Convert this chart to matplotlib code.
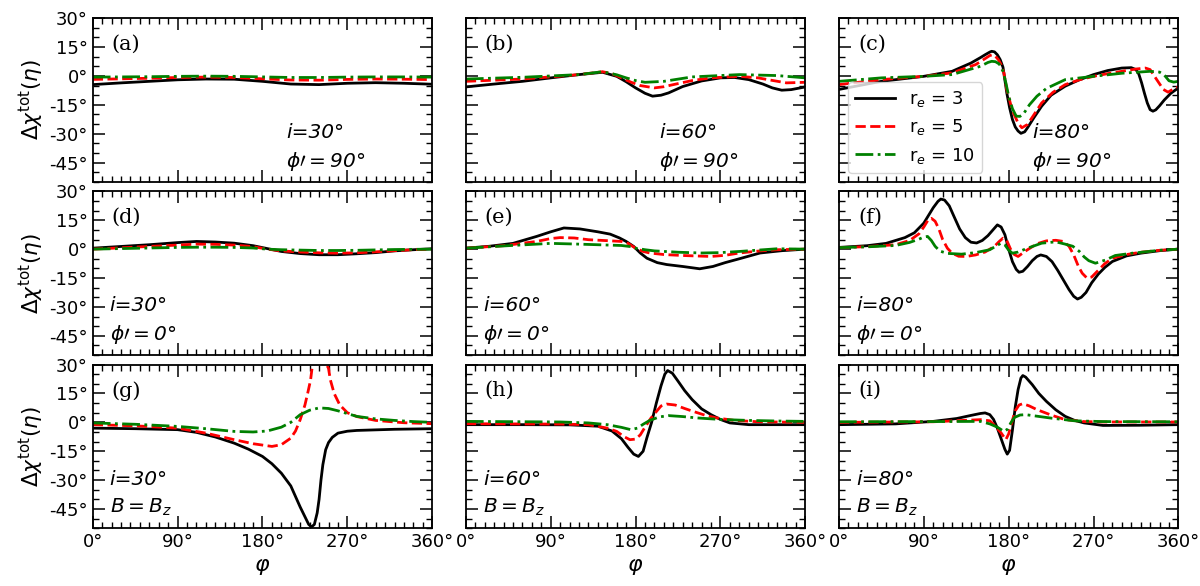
import matplotlib
matplotlib.use('Agg')
import matplotlib.pyplot as plt
from matplotlib.ticker import MultipleLocator, FuncFormatter

# ---- data (phi in degrees, chi in degrees) ----
# (a) i=30, phi'=90
a_phi = [0, 30, 60, 90, 120, 150, 180, 210, 240, 270, 300, 330, 360]
a_chi_3 = [-4.5, -3.6, -2.8, -2.0, -1.6, -1.7, -2.8, -4.2, -4.5, -3.8, -3.5, -3.8, -4.3]
a_chi_5 = [-1.8, -1.5, -1.2, -0.8, -0.6, -0.8, -1.5, -2.1, -2.2, -1.8, -1.6, -1.7, -1.9]
a_chi_10 = [-0.6, -0.5, -0.4, -0.2, -0.1, -0.2, -0.5, -0.8, -0.8, -0.6, -0.5, -0.5, -0.6]

# (b) i=60, phi'=90
b_phi_3 = [0, 30, 60, 90, 120, 145, 160, 170, 180, 190, 198, 207, 215, 230, 250, 270, 285, 300, 315, 325, 335, 345, 360]
b_chi_3 = [-5.7, -4.2, -2.8, -1.0, 0.7, 1.9, -0.2, -3.0, -6.2, -9.0, -10.5, -10.0, -8.8, -5.5, -2.6, -1.0, -0.8, -1.9, -4.2, -6.2, -7.4, -7.1, -5.7]
b_phi_5 = [0, 30, 60, 90, 120, 145, 155, 165, 175, 185, 200, 210, 220, 240, 260, 290, 310, 320, 340, 360]
b_chi_5 = [-2.8, -2.2, -1.6, -0.5, 0.7, 2.2, 1.2, -1.0, -3.2, -5.0, -6.2, -5.6, -4.5, -2.4, -1.0, -0.2, -1.0, -1.9, -3.6, -3.3]
b_phi_10 = [0, 60, 90, 120, 145, 160, 170, 180, 190, 210, 240, 290, 330, 360]
b_chi_10 = [-1.6, -0.7, 0.0, 0.7, 2.2, 0.6, -1.0, -2.4, -3.3, -2.8, -0.5, 0.7, 0.2, -1.0]

# (c) i=80, phi'=90
c_phi_3 = [0, 45, 90, 120, 140, 150, 155, 160, 162, 165, 168, 171, 174, 178, 181, 184, 187, 190, 193, 197,
           200, 207, 215, 225, 240, 255, 270, 285, 300, 310, 315, 318, 321, 324, 327, 330, 333, 336, 340, 345, 352, 360]
c_chi_3 = [-7.0, -2.8, -0.2, 2.4, 6.7, 9.5, 11.0, 12.4, 12.8, 12.5, 11.0, 8.5, 4.5, -8.8, -16.5, -22.6, -26.5, -28.6, -29.8, -29.0,
           -26.9, -21.5, -15.7, -10.0, -5.3, -2.0, 0.7, 2.8, 4.1, 4.3, 3.3, 1.0, -3.6, -9.0, -14.0, -17.5, -18.3, -17.6, -15.5, -12.5, -9.0, -6.2]
c_phi_5 = [0, 45, 90, 120, 145, 155, 160, 163, 166, 169, 172, 175, 178, 182, 185, 190, 194, 200, 207, 215,
           227, 240, 255, 270, 285, 300, 315, 325, 330, 337, 344, 349, 354, 360]
c_chi_5 = [-4.5, -1.9, -0.2, 1.6, 5.9, 9.0, 10.6, 11.0, 10.2, 8.5, 5.9, 1.5, -7.1, -14.5, -19.1, -24.5, -26.9, -25.2, -20.0, -14.0,
           -8.5, -4.5, -2.0, -0.2, 1.2, 2.4, 3.6, 4.1, 3.3, -1.9, -7.0, -8.4, -7.0, -5.7]
c_phi_10 = [0, 45, 90, 120, 150, 158, 162, 166, 170, 174, 177, 180, 184, 188, 192, 196, 202, 210, 220, 240,
            270, 300, 330, 340, 345, 350, 355, 360]
c_chi_10 = [-2.8, -1.0, -0.2, 0.7, 5.0, 7.0, 7.6, 7.4, 6.2, 2.4, -3.5, -10.5, -17.0, -20.9, -21.0, -19.5, -15.0, -10.5, -6.5, -1.9,
            -0.2, 1.4, 2.4, 2.0, 0.5, -2.5, -3.2, -2.8]

# (d) i=30, phi'=0
d_phi = [0, 30, 60, 90, 110, 130, 150, 170, 185, 200, 220, 240, 260, 280, 300, 320, 340, 360]
d_chi_3 = [0.5, 1.4, 2.3, 3.4, 4.0, 3.7, 3.1, 1.8, 0.3, -1.2, -2.3, -2.9, -2.9, -2.4, -1.8, -0.9, -0.3, 0.2]
d_chi_5 = [0.0, 0.7, 1.4, 2.1, 2.6, 2.5, 2.1, 1.3, 0.0, -0.9, -1.5, -1.9, -2.1, -1.9, -1.4, -0.8, -0.3, 0.0]
d_chi_10 = [0.0, 0.3, 0.6, 0.9, 1.0, 1.0, 0.9, 0.6, 0.0, -0.3, -0.5, -0.7, -0.7, -0.6, -0.4, -0.2, -0.1, 0.0]

# (e) i=60, phi'=0
e_phi_3 = [0, 25, 50, 75, 90, 104, 121, 140, 153, 163, 170, 178, 185, 192, 203, 213, 230, 248, 262, 275, 290, 312, 335, 360]
e_chi_3 = [0.5, 1.5, 3.0, 6.6, 9.0, 11.0, 10.5, 9.0, 7.8, 5.8, 4.0, 1.4, -2.0, -4.7, -7.0, -8.0, -9.0, -10.2, -9.0, -7.0, -5.0, -2.0, -0.8, 0.0]
e_phi_5 = [0, 40, 75, 90, 100, 115, 130, 150, 165, 172, 180, 188, 195, 210, 230, 260, 275, 290, 310, 330, 360]
e_chi_5 = [0.5, 1.8, 4.0, 5.5, 6.0, 5.8, 4.9, 4.4, 4.0, 3.0, 0.5, -1.2, -2.0, -2.8, -3.3, -3.8, -3.2, -2.0, -1.0, -0.3, 0.0]
e_phi_10 = [0, 45, 90, 120, 165, 175, 180, 190, 200, 225, 250, 270, 290, 310, 330, 360]
e_chi_10 = [0.5, 1.8, 3.0, 2.6, 1.9, 1.3, 0.5, -0.3, -0.9, -1.6, -2.0, -1.8, -1.2, -0.5, 0.2, 0.0]

# (f) i=80, phi'=0
f_phi_3 = [0, 30, 50, 70, 80, 90, 95, 100, 105, 108, 112, 117, 122, 128, 134, 140, 146, 152, 158, 163, 168, 172, 176,
           180, 184, 188, 191, 195, 200, 205, 210, 214, 220, 226, 232, 238, 244, 249, 253, 257, 262, 268, 275, 282, 290,
           305, 320, 340, 360]
f_chi_3 = [0.9, 1.8, 3.0, 6.0, 8.5, 13.5, 17.5, 21.5, 24.8, 26.0, 25.5, 22.5, 17.0, 10.5, 6.0, 3.6, 3.2, 4.5, 7.0, 9.8, 12.6, 11.5, 7.5,
           0.0, -6.5, -10.5, -12.0, -11.5, -9.0, -6.0, -3.8, -3.0, -3.8, -6.5, -11.0, -16.0, -21.0, -24.5, -25.9, -25.0, -22.5, -17.5, -13.0, -9.5, -6.4,
           -3.5, -2.1, -0.8, 0.0]
f_phi_5 = [0, 30, 60, 75, 85, 90, 95, 98, 102, 106, 110, 115, 120, 127, 135, 145, 155, 165, 170, 174, 178, 182, 186,
           190, 195, 200, 210, 220, 230, 238, 244, 249, 254, 258, 263, 268, 274, 282, 290, 305, 320, 340, 360]
f_chi_5 = [0.8, 1.3, 2.3, 4.5, 8.0, 11.5, 15.5, 16.0, 14.5, 10.5, 5.0, 0.5, -2.1, -3.7, -3.8, -3.0, -1.5, 1.5, 4.0, 5.7, 4.5, 0.0, -2.8,
           -3.8, -2.0, -0.3, 2.8, 4.3, 4.6, 4.0, 1.5, -3.0, -9.0, -12.5, -15.0, -14.5, -11.5, -7.5, -4.7, -2.8, -1.6, -0.6, 0.0]
f_phi_10 = [0, 30, 60, 75, 85, 90, 94, 98, 102, 107, 115, 130, 145, 160, 168, 172, 176, 180, 184, 190, 200, 215,
            230, 240, 248, 255, 260, 265, 272, 283, 293, 311, 340, 360]
f_chi_10 = [0.8, 1.2, 1.9, 3.5, 5.2, 6.3, 6.6, 4.5, 1.5, -1.0, -2.2, -2.6, -1.8, -0.3, 2.0, 3.1, 2.2, -0.5, -2.1, -1.5, 0.5, 3.1,
            3.8, 2.6, 1.5, -1.2, -4.0, -6.0, -7.3, -5.6, -3.3, -2.1, -0.6, 0.0]

# (g) i=30, B=Bz
g_phi_3 = [0, 45, 90, 110, 130, 150, 165, 180, 190, 200, 210, 215, 220, 225, 229, 232, 235, 238, 240, 242, 244, 247,
           250, 254, 260, 270, 280, 320, 360]
g_chi_3 = [-3.0, -3.3, -3.8, -5.2, -7.6, -10.8, -13.9, -17.7, -21.5, -26.4, -33.0, -38.5, -44.0, -49.0, -53.0, -54.3, -53.0, -47.0, -40.0, -30.0, -22.0, -14.2,
           -10.5, -7.8, -5.6, -4.6, -4.2, -3.6, -3.3]
g_phi_5 = [0, 45, 90, 120, 150, 170, 190, 200, 210, 215, 220, 225, 228, 231, 233, 240, 248, 250, 252, 256, 262, 270, 280, 300, 330, 360]
g_chi_5 = [-1.2, -1.8, -3.0, -5.6, -9.0, -11.1, -12.5, -11.6, -8.2, -4.5, 1.4, 9.0, 15.3, 22.0, 30.0, 60.0, 30.0, 28.0, 22.0, 15.0, 9.0, 5.0, 3.0, 1.0, -0.2, -0.7]
g_phi_10 = [0, 45, 90, 120, 150, 170, 185, 200, 210, 220, 230, 240, 250, 260, 280, 300, 320, 340, 360]
g_chi_10 = [-0.3, -1.0, -2.1, -3.3, -4.7, -5.0, -4.5, -2.5, 0.0, 4.0, 6.3, 7.5, 7.2, 6.0, 3.1, 1.8, 1.0, 0.4, 0.0]

# (h) i=60, B=Bz
h_phi_3 = [0, 60, 110, 140, 155, 165, 172, 178, 183, 188, 192, 197, 202, 207, 211, 214, 219, 225, 232, 240, 250, 260, 270, 280, 300, 360]
h_chi_3 = [-1.2, -1.2, -1.3, -2.0, -4.5, -8.5, -13.0, -16.5, -17.7, -15.0, -8.0, 0.0, 10.0, 19.0, 25.0, 26.9, 25.5, 21.4, 16.5, 11.8, 7.0, 4.0, 1.5, -0.3, -1.2, -1.2]
h_phi_5 = [0, 100, 130, 150, 160, 168, 174, 180, 185, 190, 196, 201, 207, 213, 222, 232, 241, 255, 266, 285, 310, 360]
h_chi_5 = [-0.7, -0.9, -1.2, -3.0, -4.7, -7.5, -9.0, -8.7, -6.5, -2.5, 2.0, 5.0, 8.5, 9.5, 9.0, 7.2, 5.7, 3.5, 2.3, 1.0, 0.3, 0.0]
h_phi_10 = [0, 100, 130, 150, 165, 175, 182, 188, 195, 205, 215, 230, 245, 270, 300, 330, 360]
h_chi_10 = [0.5, 0.2, -0.3, -1.2, -2.6, -3.8, -3.0, -1.0, 1.0, 2.8, 3.5, 3.0, 2.3, 1.5, 1.0, 0.7, 0.5]

# (i) i=80, B=Bz
i_phi_3 = [0, 60, 100, 125, 140, 150, 155, 160, 164, 168, 172, 176, 178.5, 181, 184, 187, 190, 193, 195, 198,
           205, 212, 220, 230, 240, 250, 260, 280, 320, 360]
i_chi_3 = [-1.2, -0.8, 0.5, 2.0, 3.6, 4.6, 4.9, 4.0, 1.5, -3.0, -8.5, -14.0, -16.5, -14.5, -4.0, 8.0, 17.0, 23.0, 24.3, 23.5,
           19.6, 15.0, 10.9, 6.5, 3.1, 1.0, -0.3, -1.6, -1.5, -1.2]
i_phi_5 = [0, 100, 150, 160, 166, 172, 177, 180, 183, 187, 191, 195, 202, 210, 225, 240, 260, 280, 360]
i_chi_5 = [0.0, 0.3, 1.4, 0.8, -2.0, -5.5, -9.0, -6.0, -0.5, 6.0, 9.0, 9.7, 8.5, 6.6, 3.8, 1.4, 0.4, 0.2, 0.2]
i_phi_10 = [0, 100, 150, 160, 168, 175, 179, 182, 186, 192, 198, 210, 225, 250, 280, 360]
i_chi_10 = [0.3, 0.4, 0.5, -0.8, -2.5, -4.7, -3.5, -0.5, 2.5, 3.8, 4.0, 3.2, 2.2, 0.8, 0.4, 0.3]

panel_tags = ['(a)', '(b)', '(c)', '(d)', '(e)', '(f)', '(g)', '(h)', '(i)']
incl_text = ['i=30°', 'i=60°', 'i=80°'] * 3
field_text = [r'$\phi\prime = $90°'] * 3 + [r'$\phi\prime = $0°'] * 3 + [r'$B = B_z$'] * 3
legend_labels = [r'r$_e$ = 3', r'r$_e$ = 5', r'r$_e$ = 10']

curves = [
    (a_phi, a_chi_3, a_phi, a_chi_5, a_phi, a_chi_10),
    (b_phi_3, b_chi_3, b_phi_5, b_chi_5, b_phi_10, b_chi_10),
    (c_phi_3, c_chi_3, c_phi_5, c_chi_5, c_phi_10, c_chi_10),
    (d_phi, d_chi_3, d_phi, d_chi_5, d_phi, d_chi_10),
    (e_phi_3, e_chi_3, e_phi_5, e_chi_5, e_phi_10, e_chi_10),
    (f_phi_3, f_chi_3, f_phi_5, f_chi_5, f_phi_10, f_chi_10),
    (g_phi_3, g_chi_3, g_phi_5, g_chi_5, g_phi_10, g_chi_10),
    (h_phi_3, h_chi_3, h_phi_5, h_chi_5, h_phi_10, h_chi_10),
    (i_phi_3, i_chi_3, i_phi_5, i_chi_5, i_phi_10, i_chi_10),
]

plt.rcParams['mathtext.fontset'] = 'dejavusans'
deg = FuncFormatter(lambda v, p: '%d°' % v)

fig, axes = plt.subplots(3, 3, figsize=(12, 5.86), dpi=100, sharex=True, sharey=True)
fig.subplots_adjust(left=0.0773, right=0.982, top=0.969, bottom=0.0985, wspace=0.099, hspace=0.058)

for k, ax in enumerate(axes.flat):
    x3, y3, x5, y5, x10, y10 = curves[k]
    ax.plot(x3, y3, color='k', ls='-', lw=2, label=legend_labels[0])
    ax.plot(x5, y5, color='r', ls='--', lw=2, label=legend_labels[1])
    ax.plot(x10, y10, color='g', ls='-.', lw=2, label=legend_labels[2])

    ax.set_xlim(0, 360)
    ax.set_ylim(-55, 30)
    ax.xaxis.set_major_locator(MultipleLocator(90))
    ax.xaxis.set_minor_locator(MultipleLocator(10))
    ax.yaxis.set_major_locator(MultipleLocator(15))
    ax.yaxis.set_minor_locator(MultipleLocator(5))
    ax.xaxis.set_major_formatter(deg)
    ax.yaxis.set_major_formatter(deg)
    ax.tick_params(which='both', direction='in', top=True, right=True, labelsize=13)
    ax.tick_params(which='major', length=8.5, width=1.1)
    ax.tick_params(which='minor', length=4.5, width=1.0)
    for s in ax.spines.values():
        s.set_linewidth(1.3)

    ax.text(0.056, 0.84, panel_tags[k], transform=ax.transAxes, fontsize=15,
            family='DejaVu Serif', va='center', ha='left')
    if k < 3:
        tx = 0.57
    else:
        tx = 0.05
    ax.text(tx, 0.30, incl_text[k], transform=ax.transAxes, fontsize=14.5,
            style='italic', va='center', ha='left')
    ax.text(tx, 0.125, field_text[k], transform=ax.transAxes, fontsize=14.5,
            style='italic', va='center', ha='left')

    if k % 3 == 0:
        ax.set_ylabel(r'$\Delta\chi^{\rm tot}(\eta)$', fontsize=15.5, labelpad=2)
    if k >= 6:
        ax.set_xlabel(r'$\varphi$', fontsize=16)

axes[0, 2].legend(loc='lower left', fontsize=13, handlelength=2.2, borderaxespad=0.5,
                  labelspacing=0.45, framealpha=0.8)

fig.savefig('out.png', dpi=100)
